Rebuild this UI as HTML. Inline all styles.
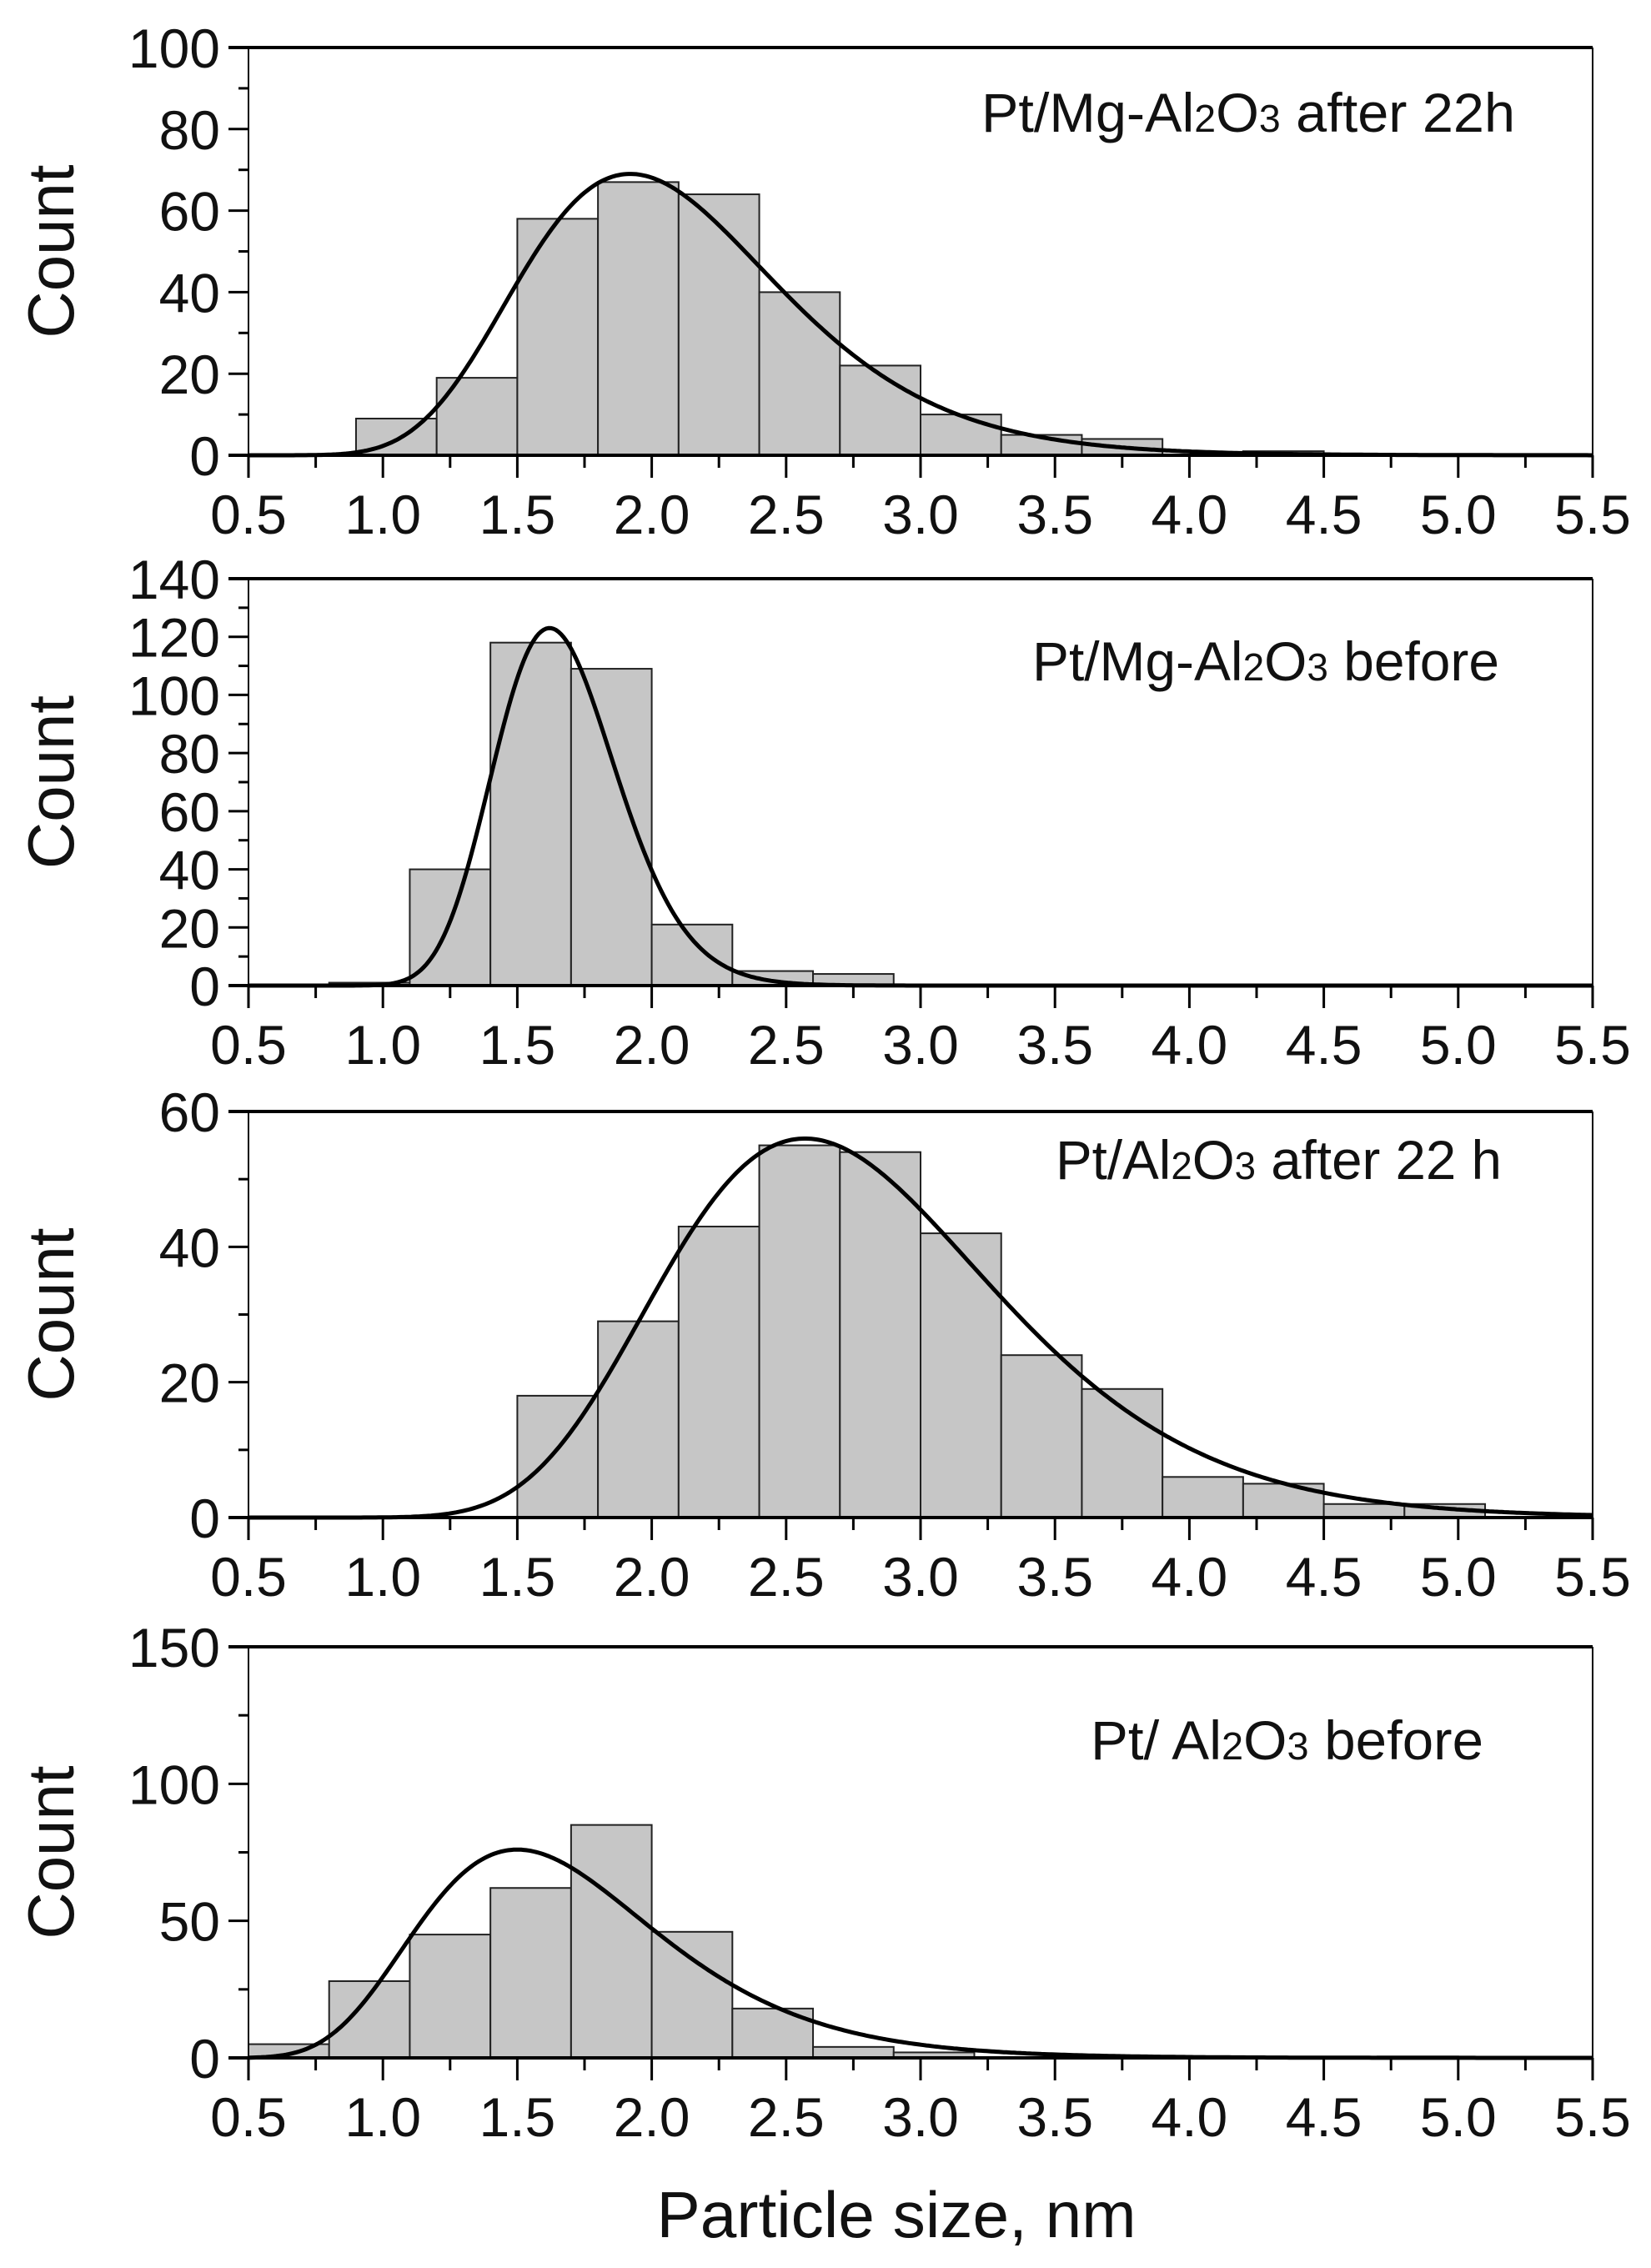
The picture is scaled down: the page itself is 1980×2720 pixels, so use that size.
<!DOCTYPE html>
<html><head><meta charset="utf-8"><style>
html,body{margin:0;padding:0;background:#fff}
svg{display:block}
text{font-family:"Liberation Sans",Arial,sans-serif;fill:#111}
</style></head><body>
<svg id="chart" width="1980" height="2720" viewBox="0 0 1980 2720" xmlns="http://www.w3.org/2000/svg">
<text x="1075" y="2683" text-anchor="middle" font-size="78" textLength="575" lengthAdjust="spacingAndGlyphs">Particle size, nm</text>
</svg>
<script>
// ---- data ----
const xTicks = [0.5,1.0,1.5,2.0,2.5,3.0,3.5,4.0,4.5,5.0,5.5];
const binWidth = 0.3;
const p1Starts = [0.9,1.2,1.5,1.8,2.1,2.4,2.7,3.0,3.3,3.6,3.9,4.2];
const p1Counts = [9,19,58,67,64,40,22,10,5,4,0,1];
const p1Ticks = [0,20,40,60,80,100];
const p1Fit = [1.92,69,0.25];
const p2Starts = [0.8,1.1,1.4,1.7,2.0,2.3,2.6];
const p2Counts = [1,40,118,109,21,5,4];
const p2Ticks = [0,20,40,60,80,100,120,140];
const p2Fit = [1.62,123,0.14];
const p3Starts = [1.5,1.8,2.1,2.4,2.7,3.0,3.3,3.6,3.9,4.2,4.5,4.8];
const p3Counts = [18,29,43,55,54,42,24,19,6,5,2,2];
const p3Ticks = [0,20,40,60];
const p3Fit = [2.57,56,0.24];
const p4Starts = [0.5,0.8,1.1,1.4,1.7,2.0,2.3,2.6,2.9,3.2,3.5,3.8,4.1,4.4,4.7];
const p4Counts = [5,28,45,62,85,46,18,4,2,0,0,0,0,0,0.5];
const p4Ticks = [0,50,100,150];
const p4Fit = [1.5,76,0.295];

const NS = "http://www.w3.org/2000/svg";
const svg = document.getElementById('chart');
const X0 = 298, X1 = 1910, XMIN = 0.5, XMAX = 5.5;
function sx(v){ return X0 + (v - XMIN) / (XMAX - XMIN) * (X1 - X0); }
function mk(tag, attrs, parent){
  const e = document.createElementNS(NS, tag);
  for (const k in attrs) e.setAttribute(k, attrs[k]);
  (parent || svg).appendChild(e);
  return e;
}
function panel(idx, top, bottom, starts, counts, ticks, fit, lab, labX, labY, labLen){
  const ymax = ticks[ticks.length - 1];
  const sy = v => bottom - v / ymax * (bottom - top);
  const g = mk('g', {});
  
  
  starts.forEach((s, i) => {
    const r = mk('rect', {x: sx(s), y: sy(counts[i]), width: sx(s + binWidth) - sx(s), height: bottom - sy(counts[i]), fill: '#c6c6c6', stroke: '#222', 'stroke-width': 2}, g);
    
    
  });
  let d = '';
  for (let px = X0; px <= X1; px += 3) {
    const x = XMIN + (px - X0) / (X1 - X0) * (XMAX - XMIN);
    const l = Math.log(x / fit[0]);
    const y = fit[1] * Math.exp(-l * l / (2 * fit[2] * fit[2]));
    d += (d ? 'L' : 'M') + px.toFixed(1) + ' ' + sy(y).toFixed(1);
  }
  const c = mk('path', {d: d, fill: 'none', stroke: '#000', 'stroke-width': 5}, g);
  
  
  const fr = mk('g', {stroke: '#000'}, g);
  
  
  mk('line', {x1: X0 - 24, y1: top, x2: X1, y2: top, 'stroke-width': 4}, fr);
  mk('line', {x1: X0 - 24, y1: bottom, x2: X1, y2: bottom, 'stroke-width': 4}, fr);
  mk('line', {x1: X0, y1: top, x2: X0, y2: bottom + 27, 'stroke-width': 2}, fr);
  mk('line', {x1: X1, y1: top, x2: X1, y2: bottom + 27, 'stroke-width': 2}, fr);
  xTicks.forEach((t, i) => {
    mk('line', {x1: sx(t), y1: bottom, x2: sx(t), y2: bottom + 27, 'stroke-width': 3}, fr);
    if (i < xTicks.length - 1) { const m = t + 0.25; mk('line', {x1: sx(m), y1: bottom, x2: sx(m), y2: bottom + 15, 'stroke-width': 3}, fr); }
    const tx = mk('text', {x: sx(t), y: bottom + 94, 'text-anchor': 'middle', 'font-size': 66}, g);
    tx.textContent = t.toFixed(1);
    
    
  });
  const step = ticks[1] - ticks[0];
  ticks.forEach((t, i) => {
    mk('line', {x1: X0 - 24, y1: sy(t), x2: X0, y2: sy(t), 'stroke-width': 3}, fr);
    if (i < ticks.length - 1) mk('line', {x1: X0 - 12, y1: sy(t + step / 2), x2: X0, y2: sy(t + step / 2), 'stroke-width': 3}, fr);
    const ty = mk('text', {x: X0 - 34, y: sy(t) + 24, 'text-anchor': 'end', 'font-size': 66}, g);
    ty.textContent = String(t);
    
    
  });
  const yt = mk('text', {x: 0, y: 0, 'text-anchor': 'middle', 'font-size': 78, transform: 'translate(88,' + ((top + bottom) / 2) + ') rotate(-90)'}, g);
  yt.textContent = 'Count';
  
  
  const lt = mk('text', {x: labX, y: labY, 'font-size': 66, textLength: labLen, lengthAdjust: 'spacingAndGlyphs'}, g);
  lt.innerHTML = lab;
  
  
}
const sub = n => '<tspan font-size="46">' + n + '</tspan>';
panel(1, 57, 546, p1Starts, p1Counts, p1Ticks, p1Fit, 'Pt/Mg-Al' + sub(2) + 'O' + sub(3) + ' after 22h', 1177, 158, 640);
panel(2, 694, 1182, p2Starts, p2Counts, p2Ticks, p2Fit, 'Pt/Mg-Al' + sub(2) + 'O' + sub(3) + ' before', 1238, 816, 560);
panel(3, 1333, 1820, p3Starts, p3Counts, p3Ticks, p3Fit, 'Pt/Al' + sub(2) + 'O' + sub(3) + ' after 22 h', 1266, 1414, 535);
panel(4, 1975, 2468, p4Starts, p4Counts, p4Ticks, p4Fit, 'Pt/ Al' + sub(2) + 'O' + sub(3) + ' before', 1308, 2110, 471);
</script>
</body></html>
